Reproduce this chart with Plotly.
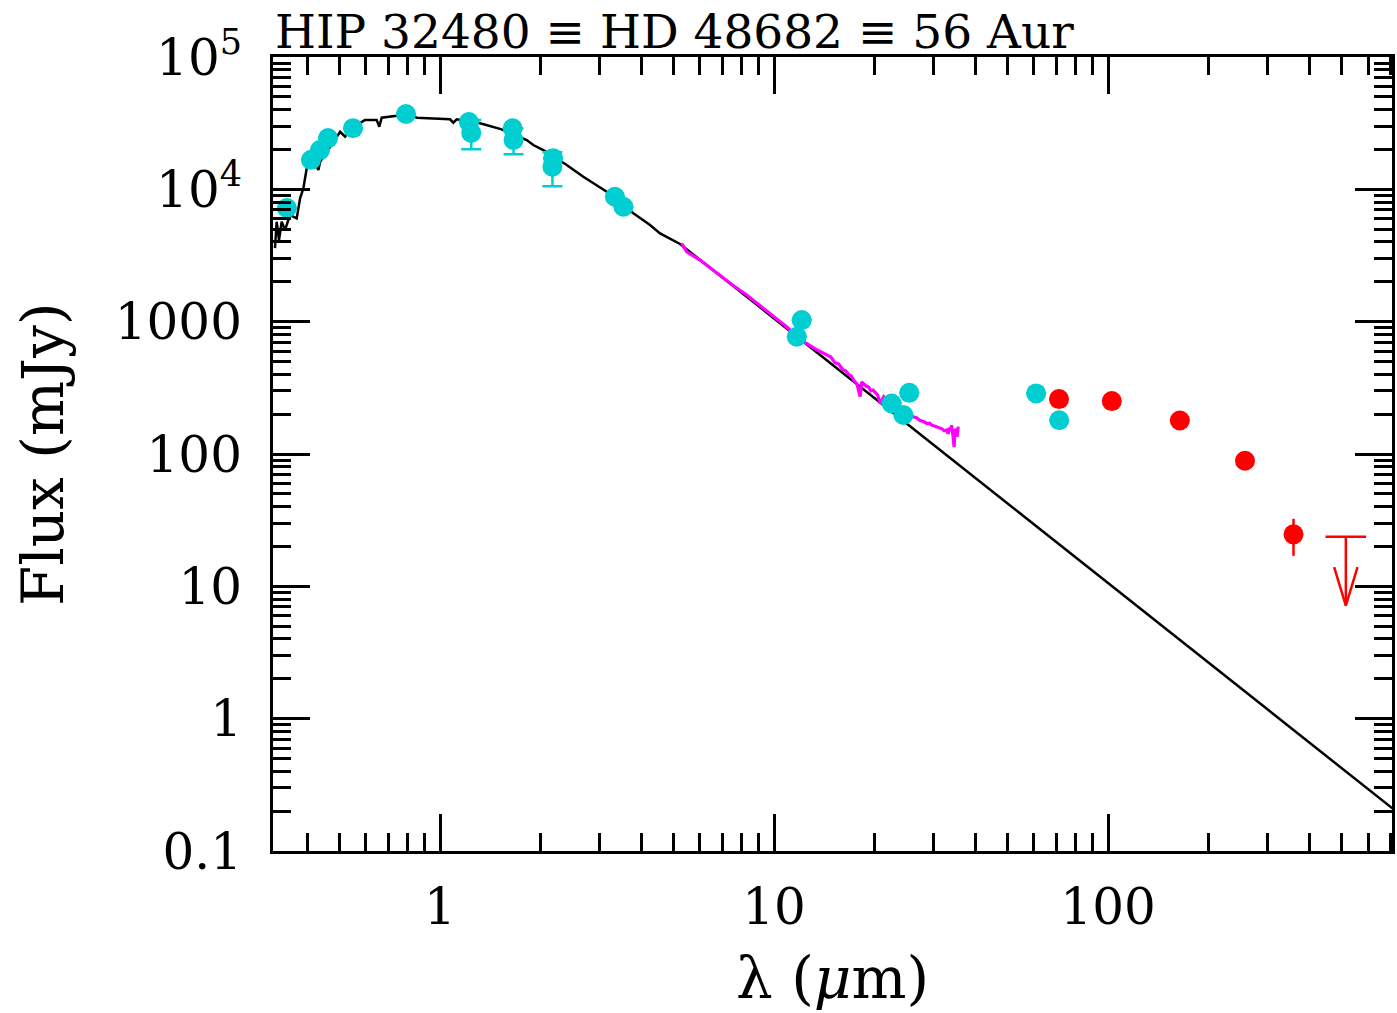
import plotly.graph_objects as go

# ---------------- data ----------------
# photospheric model (black)
model_wave = [0.3206, 0.3243, 0.3296, 0.3357, 0.3434, 0.3556, 0.3724, 0.3811, 0.3899, 0.3990,
              0.4178, 0.4325, 0.4375, 0.5024, 0.5197, 0.5443, 0.5963, 0.6463, 0.6580, 0.6689,
              0.7420, 0.7947, 0.8516, 0.9775, 1.071, 1.096, 1.122, 1.318, 1.530, 1.818,
              1.902, 2.039, 2.395, 2.685, 3.156, 3.791, 4.254, 4.557, 5.23, 10.0,
              20.0, 50.0, 100.0, 200.0, 500.0, 710.0]
model_flux = [3598, 5689, 4140, 5689, 4923, 6392, 6036, 8551, 10180, 14420,
              16650, 13990, 16170, 27230, 24990, 28910, 33400, 33400, 29720, 34760,
              35990, 37530, 34760, 34420, 33820, 31870, 33820, 31540, 28410, 23590,
              21620, 19820, 15270, 12450, 9592, 6586, 5372, 4650, 3866, 1057,
              264, 42.3, 10.6, 2.64, 0.423, 0.21]

# Spitzer/IRS spectrum (magenta)
irs_wave = [5.29, 5.35, 5.48, 6.00, 6.5, 7.05, 7.6, 8.28, 9.0, 9.84, 10.9, 11.6, 12.5, 13.4,
            14.4, 14.8, 15.2, 15.6, 16.1, 16.4, 16.7, 17.0, 17.3, 17.7, 18.1, 18.3, 18.5,
            18.9, 19.2, 19.5, 19.8, 20.1, 20.4, 20.8, 21.3, 21.8, 22.5, 23.2, 23.8, 24.4,
            25.0, 25.6, 26.1, 26.7, 27.3, 28.0, 28.7, 29.2, 29.7, 30.2, 30.7, 31.2, 31.8,
            32.3, 32.9, 33.2, 33.5, 33.8, 34.0, 34.3, 34.6, 34.8, 35.0, 35.3, 35.6]
irs_flux = [3907, 3700, 3375, 2922, 2500, 2125, 1850, 1589, 1350, 1122, 915, 790, 685, 615,
            559, 540, 490, 480, 431, 425, 400, 390, 362, 340, 271, 350, 342,
            325, 320, 300, 304, 290, 280, 241, 271, 255, 240, 232, 215, 212,
            200, 197, 191, 188, 180, 176, 170, 171, 165, 163, 161, 158, 155,
            150, 152, 142, 158, 150, 165, 140, 113, 155, 150, 135, 161]

# literature photometry (cyan)
phot_wave = [0.348, 0.411, 0.437, 0.462, 0.549, 0.791, 1.22, 1.24, 1.65, 1.66, 2.18, 2.17,
             3.34, 3.54, 11.7, 12.1, 22.5, 24.4, 25.4, 60.9, 71.4]
phot_flux = [7220, 16700, 19800, 24400, 29000, 37100, 32300, 26700, 28900, 23600, 17200, 14800,
             8790, 7390, 769, 1028, 241, 197, 290, 287, 180]
phot_err = [0, 0, 0, 0, 0, 0, 0, 6650, 0, 5200, 0, 4240,
            0, 0, 0, 0, 0, 0, 0, 0, 0]

# Herschel photometry (red)
hers_wave = [71.3, 102.6, 164.0, 257.0, 359.0]
hers_flux = [260, 251, 179, 88.9, 24.7]
hers_err = [0, 0, 0, 0, 7.7]

# upper limit (red arrow)
ul_wave = [515.0]
ul_flux = [23.7]

x_tickvals = [1, 10, 100]
x_ticktext = ["1", "10", "100"]
y_tickvals = [0.1, 1, 10, 100, 1000, 1e4, 1e5]
y_ticktext = ["0.1", "1", "10", "100", "1000", "10<sup>4</sup>", "10<sup>5</sup>"]

title_text = "HIP 32480 \u2261 HD 48682 \u2261 56 Aur"

# ---------------- figure ----------------
CYAN = "#00CED1"
RED = "#FF0000"
MAG = "#FF00FF"
FONT = "DejaVu Serif"

fig = go.Figure()

fig.add_trace(go.Scatter(x=model_wave, y=model_flux, mode="lines",
                         line=dict(color="black", width=2.5), showlegend=False))
fig.add_trace(go.Scatter(x=irs_wave, y=irs_flux, mode="lines",
                         line=dict(color=MAG, width=3.2), showlegend=False))
fig.add_trace(go.Scatter(x=phot_wave, y=phot_flux, mode="markers",
                         marker=dict(color=CYAN, size=20, line=dict(width=0)),
                         error_y=dict(type="data", array=phot_err, color=CYAN,
                                      thickness=2.5, width=10),
                         showlegend=False))
fig.add_trace(go.Scatter(x=hers_wave, y=hers_flux, mode="markers",
                         marker=dict(color=RED, size=20, line=dict(width=0)),
                         error_y=dict(type="data", array=hers_err, color=RED,
                                      thickness=2.5, width=0),
                         showlegend=False))

# upper-limit glyph: cap + stem + open arrowhead, derived from the data point
ARROW_DEC = 0.52      # arrow length in decades (style)
HEAD_DEC = 0.29       # arrowhead length in decades (style)
HEAD_HALF = 0.035     # arrowhead half-width in decades of x (style)
for w, f in zip(ul_wave, ul_flux):
    tip = f / 10 ** ARROW_DEC
    fig.add_trace(go.Scatter(x=[w], y=[f], mode="markers",
                             marker=dict(symbol="line-ew", size=29,
                                         line=dict(color=RED, width=2.5)),
                             showlegend=False))
    fig.add_trace(go.Scatter(x=[w, w], y=[f, tip], mode="lines",
                             line=dict(color=RED, width=2.5), showlegend=False))
    fig.add_trace(go.Scatter(x=[w / 10 ** HEAD_HALF, w, w * 10 ** HEAD_HALF],
                             y=[tip * 10 ** HEAD_DEC, tip, tip * 10 ** HEAD_DEC],
                             mode="lines", line=dict(color=RED, width=2.5),
                             showlegend=False))

def minor_vals(lo, hi):
    vals = []
    for e in range(lo, hi + 1):
        for m in range(2, 10):
            vals.append(m * 10.0 ** e)
    return vals

axis_common = dict(
    showline=True, linecolor="black", linewidth=3, mirror="allticks",
    ticks="inside", ticklen=37, tickwidth=2.5, tickcolor="black",
    showgrid=False, zeroline=False,
    tickfont=dict(family=FONT, size=50, color="black"),
)

fig.update_xaxes(type="log", range=[-0.5, 2.85], tickmode="array",
                 tickvals=x_tickvals, ticktext=x_ticktext,
                 minor=dict(ticks="inside", ticklen=18, tickwidth=2.5, tickcolor="black",
                            tickmode="array", tickvals=minor_vals(-1, 2), showgrid=False),
                 ticklabelstandoff=10,
                 **axis_common)
fig.update_yaxes(type="log", range=[-1, 5], tickmode="array",
                 tickvals=y_tickvals, ticktext=y_ticktext,
                 minor=dict(ticks="inside", ticklen=18, tickwidth=2.5, tickcolor="black",
                            tickmode="array", tickvals=minor_vals(-1, 4), showgrid=False),
                 ticklabelstandoff=18,
                 **axis_common)

fig.update_layout(
    width=1397, height=1013,
    margin=dict(l=273, r=5, t=57, b=162, autoexpand=False),
    paper_bgcolor="white", plot_bgcolor="white",
    showlegend=False,
    annotations=[
        dict(text=title_text, xref="paper", yref="paper", x=0.0, y=1.0,
             xanchor="left", yanchor="bottom", showarrow=False, yshift=-4,
             font=dict(family=FONT, size=47, color="black")),
        dict(text="\u03bb (<i>\u03bc</i>m)", xref="paper", yref="paper", x=0.5, y=-0.16,
             xanchor="center", yanchor="middle", showarrow=False,
             font=dict(family=FONT, size=58, color="black")),
        dict(text="Flux (mJy)", xref="paper", yref="paper", x=-0.2055, y=0.5,
             xanchor="center", yanchor="middle", showarrow=False, textangle=-90,
             font=dict(family=FONT, size=58, color="black")),
    ],
)

fig.write_html("out.html", config={"displayModeBar": False},
               post_script="document.body.style.margin='0';document.body.style.overflow='hidden';")
